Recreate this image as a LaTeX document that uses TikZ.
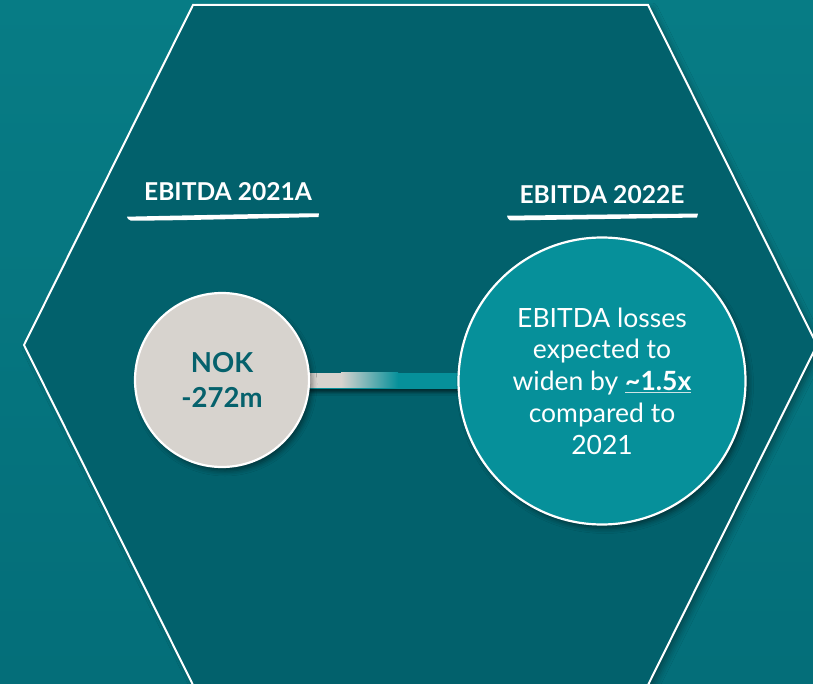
\documentclass[tikz,border=0pt]{standalone}
\usepackage{fontspec}
\setmainfont{Lato}
\usetikzlibrary{shadows.blur,calc}
\definecolor{bgtop}{HTML}{077C85}
\definecolor{bgbot}{HTML}{046E79}
\definecolor{hexin}{HTML}{02616C}
\definecolor{leftfill}{HTML}{D7D3CE}
\definecolor{rightfill}{HTML}{06909A}
\definecolor{darktext}{HTML}{05616C}
\definecolor{ulcol}{HTML}{CFE3E4}
\tikzset{
  bubble/.style={circle, draw=white, line width=2.2pt, inner sep=0pt, align=center,
    blur shadow={shadow xshift=3pt, shadow yshift=-4pt, shadow blur radius=5pt, shadow opacity=45}},
  headlabel/.style={text=white, font=\fontsize{24.6}{28}\selectfont\bfseries, anchor=base, inner sep=0pt},
  brush/.style={fill=white},
}
\begin{document}
\begin{tikzpicture}[x=1pt,y=-1pt]
\useasboundingbox (0,0) rectangle (813,684);
\clip (0,0) rectangle (813,684);
% background and hexagon
\fill[bgtop] (0,0) rectangle (813,684);
\shade[top color=bgtop, bottom color=bgbot, shading angle=0] (0,0) rectangle (813,684);
\draw[white, line width=2pt, fill=hexin, line join=miter,
      blur shadow={shadow xshift=4pt, shadow yshift=-4pt, shadow blur radius=6pt, shadow opacity=35}]
  (193,5) -- (648,5) -- (817,345) -- (648,685) -- (193,685) -- (24,345) -- cycle;
% centres
\coordinate (Lc) at (222,380);
\coordinate (Rc) at (602,381);
% connector bar
\path[blur shadow={shadow xshift=0pt, shadow yshift=-4pt, shadow blur radius=3pt, shadow opacity=55}]
  ($(Lc)+(0,-7.5)$) rectangle ($(Rc)+(0,7.5)$);
\fill[rightfill] ($(Lc)+(0,-7.5)$) rectangle ($(Rc)+(0,7.5)$);
\fill[leftfill] ($(Lc)+(0,-7.5)$) rectangle ($(Lc)+(120,7.5)$);
\shade[left color=leftfill, right color=rightfill] ($(Lc)+(119,-7.5)$) rectangle ($(Lc)+(176,7.5)$);
% circles
\node[bubble, fill=leftfill, minimum size=174pt, text=darktext,
      font=\fontsize{27.5}{35}\selectfont\bfseries] (L) at (Lc) {NOK\\-272m};
\node[bubble, fill=rightfill, minimum size=287pt, text=white,
      font=\fontsize{26.5}{31.8}\selectfont] (R) at (Rc)
  {EBITDA losses\\expected to\\widen by \textcolor{ulcol}{\underline{\textcolor{white}{\bfseries\textasciitilde1.5x}}}\\compared to\\2021};
% labels
\node[headlabel] (la) at (228,201) {EBITDA 2021A};
\node[headlabel] (lb) at (602,204) {EBITDA 2022E};
\fill[brush] (127,216.7) .. controls (180,215.5) and (260,213.8) .. (319,213.3)
  -- (318.5,217) .. controls (260,218.5) and (180,220.5) .. (131,220.7) -- (128,219) -- cycle;
\fill[brush] (507,215.7) .. controls (570,215) and (640,214) .. (698,213.6)
  -- (697,217.5) .. controls (640,218.5) and (570,219.5) .. (510,220.5) -- (508,218.5) -- cycle;
\end{tikzpicture}
\end{document}
